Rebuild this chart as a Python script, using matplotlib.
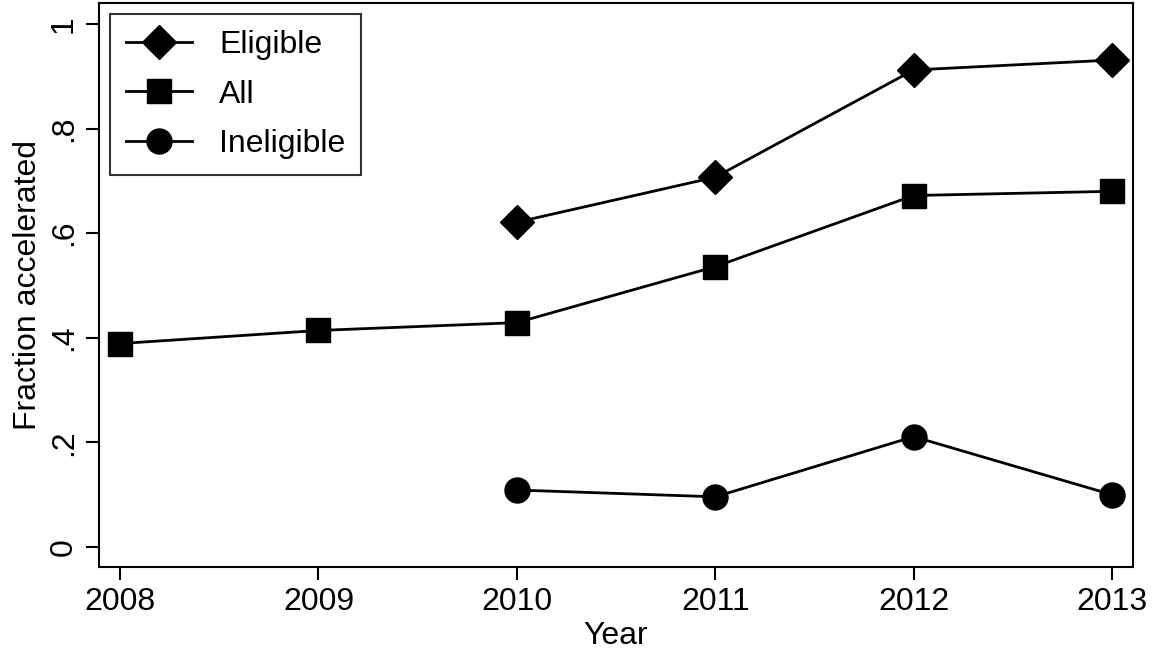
import numpy as np
import matplotlib
matplotlib.use("Agg")
import matplotlib.pyplot as plt

plt.rcParams['font.family'] = ['Liberation Sans', 'DejaVu Sans']

years_all = [2008, 2009, 2010, 2011, 2012, 2013]
years_sub = [2010, 2011, 2012, 2013]
eligible = [0.621, 0.707, 0.912, 0.931]
all_vals = [0.389, 0.414, 0.429, 0.536, 0.672, 0.680]
ineligible = [0.109, 0.096, 0.211, 0.100]
yticks = [0, 0.2, 0.4, 0.6, 0.8, 1.0]
ytick_labels = ["0", ".2", ".4", ".6", ".8", "1"]

fs = 23

fig = plt.figure(figsize=(11.58, 6.51), dpi=100)
ax = fig.add_axes([0.0855, 0.129, 0.893, 0.8664])

ax.plot(years_sub, eligible, "k-", marker="D", ms=17, lw=2.0, label="Eligible")
ax.plot(years_all, all_vals, "k-", marker="s", ms=17.5, lw=2.0, label="All")
ax.plot(years_sub, ineligible, "k-", marker="o", ms=18, lw=2.0, label="Ineligible")

ax.set_xlim(2007.894, 2013.106)
ax.set_ylim(-0.0382, 1.040)
ax.set_xticks(years_all)
ax.set_yticks(yticks)
ax.set_yticklabels(ytick_labels, rotation=90, va="center")
ax.tick_params(direction="out", length=9.5, width=1.5, labelsize=fs, pad=5)
for s in ax.spines.values():
    s.set_linewidth(1.5)

ax.set_xlabel("Year", fontsize=fs, labelpad=3)
ax.set_ylabel("Fraction accelerated", fontsize=fs, labelpad=4)

leg = ax.legend(loc="upper left", fontsize=fs, frameon=True, fancybox=False,
                edgecolor="black", handlelength=2.07, borderpad=0.5,
                labelspacing=0.62, handletextpad=0.85, borderaxespad=0.34)
leg.get_frame().set_linewidth(1.5)

fig.savefig("out.png", dpi=100)
